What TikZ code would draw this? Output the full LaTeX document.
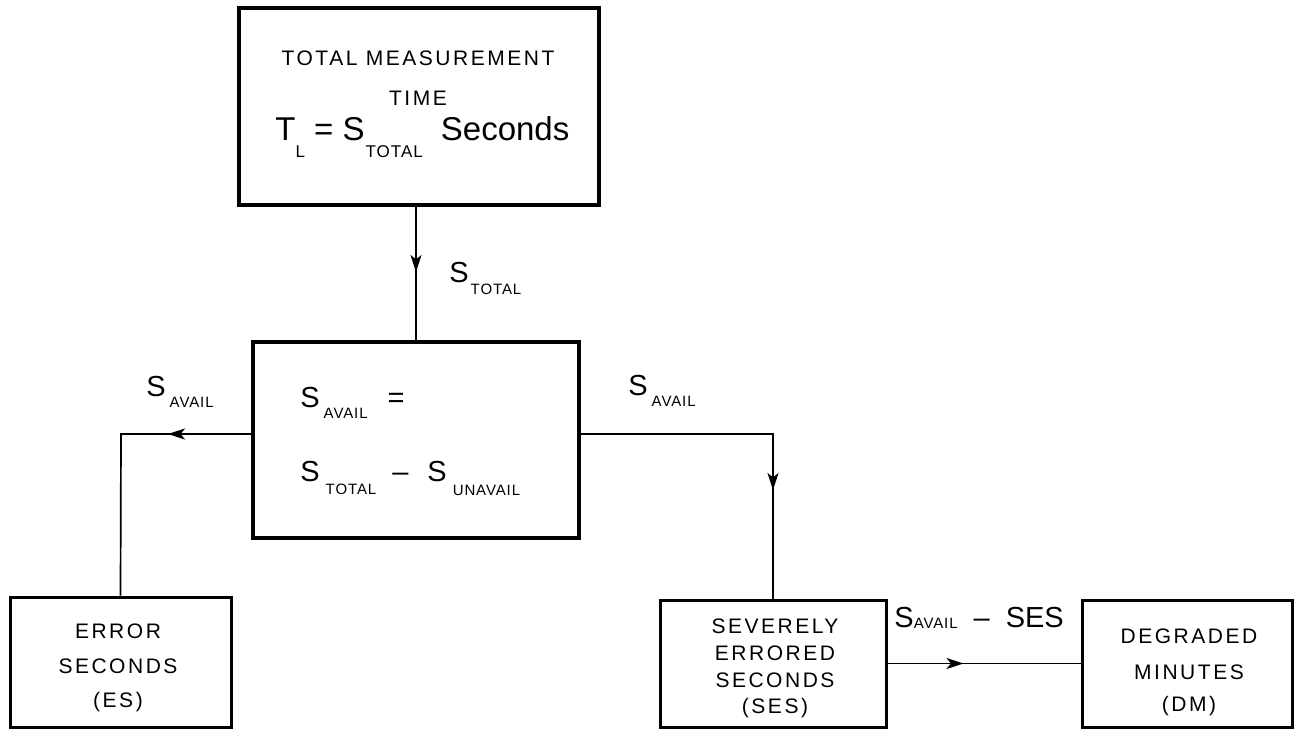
\documentclass[tikz,border=0pt]{standalone}
\usepackage{fontspec}
\setmainfont{Liberation Sans}
\usetikzlibrary{arrows.meta,decorations.markings}
\newfontfamily\boxfam[LetterSpace=12]{Liberation Sans}
\newfontfamily\subfam[LetterSpace=6]{Liberation Sans}
\newcommand\boxtxt{\boxfam\fontsize{10.5}{12}\selectfont}
\newcommand\bigtxt{\fontsize{14.5}{16}\selectfont}
\newcommand\sbf{\subfam\fontsize{7.5}{8}\selectfont}
\newcommand\sbff{\subfam\fontsize{8.5}{9}\selectfont}
\newcommand\lsub[2]{\raisebox{-#1}{\sbf #2}}
\newcommand\lsubb[2]{\raisebox{-#1}{\sbff #2}}
\tikzset{
  heavybox/.style={draw, line width=2pt, inner sep=0pt},
  lightbox/.style={draw, line width=1.5pt, inner sep=0pt},
  conn/.style={line width=0.85pt},
  lbl/.style={inner sep=0pt, anchor=base west},
  ctr/.style={inner sep=0pt, anchor=base},
  midarrow/.style={postaction={decorate}, decoration={markings,
     mark=at position #1 with {\arrow{Stealth[length=8.5pt,width=5.5pt,inset=2.2pt]}}}}
}
\begin{document}
\begin{tikzpicture}[x=0.5pt,y=-0.5pt]
\useasboundingbox (0,0) rectangle (1302,729);
% boxes
\node[heavybox, minimum width=180pt, minimum height=98.5pt] (top) at (419,106.5) {};
\node[heavybox, minimum width=163pt, minimum height=98pt] (mid) at (416,440) {};
\node[lightbox, minimum width=110.5pt, minimum height=65pt] (es) at (120.5,662) {};
\node[lightbox, minimum width=113pt, minimum height=63.5pt] (ses) at (773,663.5) {};
\node[lightbox, minimum width=105pt, minimum height=63.5pt] (dm) at (1187,663.5) {};
% top box text
\node[ctr] (t1) at (418,65) {\boxtxt TOTAL MEASUREMENT};
\node[ctr] (t2) at (418,105) {\boxtxt TIME};
\node[lbl] (t3) at (275,140) {\fontsize{16.5}{18}\selectfont T\lsubb{8.5pt}{L} = S\hspace{0.5pt}\lsubb{8.5pt}{TOTAL}\hspace{9pt}Seconds};
% middle box text
\node[lbl] (m1) at (300,407) {\bigtxt S\hspace{2pt}\lsub{5.5pt}{AVAIL}\hspace{10pt}=};
\node[lbl] (m2) at (300,481) {\bigtxt S\hspace{3pt}\lsub{6.5pt}{TOTAL}\hspace{8pt}--\hspace{9.5pt}S\hspace{3pt}\lsub{7pt}{UNAVAIL}};
% ES box text
\node[ctr] (e1) at (118,638) {\boxtxt ERROR};
\node[ctr] (e2) at (118,673) {\boxtxt SECONDS};
\node[ctr] (e3) at (118,707) {\boxtxt (ES)};
% SES box text
\node[ctr] (s1) at (775,633) {\boxtxt SEVERELY};
\node[ctr] (s2) at (775,660) {\boxtxt ERRORED};
\node[ctr] (s3) at (775,687) {\boxtxt SECONDS};
\node[ctr] (s4) at (775,713) {\boxtxt (SES)};
% DM box text
\node[ctr] (d1) at (1189,643) {\boxtxt DEGRADED};
\node[ctr] (d2) at (1189,679) {\boxtxt MINUTES};
\node[ctr] (d3) at (1189,711) {\boxtxt (DM)};
% connector labels
\node[lbl] (lt) at (449,282) {\bigtxt S\hspace{1pt}\lsub{6pt}{TOTAL}};
\node[lbl] (la) at (146,396) {\bigtxt S\hspace{2pt}\lsub{5.5pt}{AVAIL}};
\node[lbl] (ra) at (628,395) {\bigtxt S\hspace{2pt}\lsub{5.5pt}{AVAIL}};
\node[lbl] (sl) at (894,627) {\bigtxt S\lsub{0.5pt}{AVAIL}\hspace{8pt}--\hspace{8pt}SES};
% connectors
\coordinate (lj) at (121,434);
\coordinate (rj) at (773,434);
\draw[conn, midarrow=32.5pt] (mid.north |- top.south) -- (mid.north);
\draw[conn, midarrow=41.5pt] (mid.west |- lj) -- (lj) -- (es.north);
\draw[conn, midarrow=124pt] (mid.east |- rj) -- (rj) -- (ses.north);
\draw[conn, midarrow=38pt] (ses.east) -- (dm.west);
\end{tikzpicture}
\end{document}
